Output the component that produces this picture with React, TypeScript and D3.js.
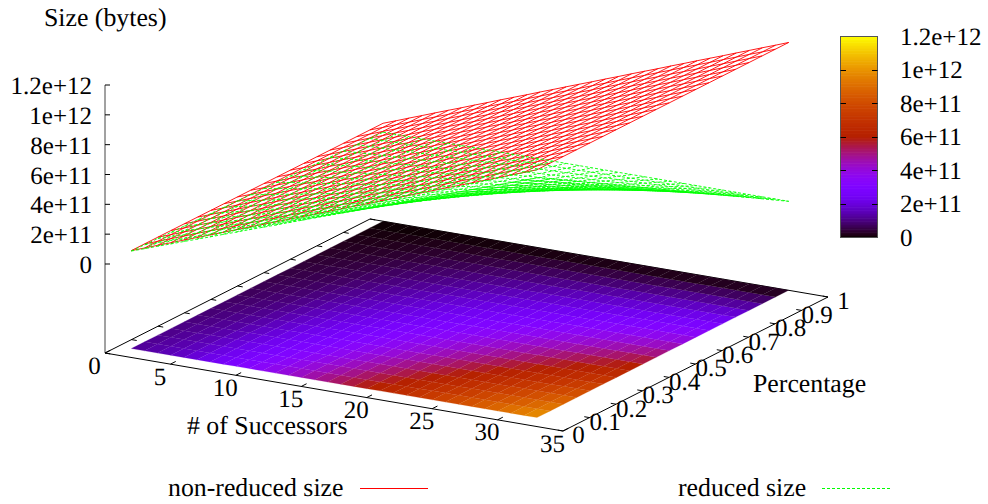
import React, { useEffect, useRef } from 'react';
import * as d3 from 'd3';

const successors = [
  1, 2, 3, 4, 5, 6, 7, 8, 9, 10, 11, 12, 13, 14, 15, 16,
  17, 18, 19, 20, 21, 22, 23, 24, 25, 26, 27, 28, 29, 30, 31, 32,
];
const percentages = [
  0.05, 0.1, 0.15, 0.2, 0.25, 0.3, 0.35, 0.4, 0.45, 0.5,
  0.55, 0.6, 0.65, 0.7, 0.75, 0.8, 0.85, 0.9, 0.95, 1,
];
// size in bytes for each successor count, read off the red mesh (it does not change with percentage)
const nonReducedSize = [
  0.6e11, 0.92e11, 1.25e11, 1.57e11, 1.9e11, 2.22e11, 2.54e11, 2.87e11,
  3.19e11, 3.52e11, 3.84e11, 4.16e11, 4.49e11, 4.81e11, 5.14e11, 5.46e11,
  5.78e11, 6.11e11, 6.43e11, 6.76e11, 7.08e11, 7.4e11, 7.73e11, 8.05e11,
  8.38e11, 8.7e11, 9.02e11, 9.35e11, 9.67e11, 10e11, 10.32e11, 10.65e11,
];
// share of the size left on the green mesh at each percentage
const reducedShare = [
  0.95, 0.9, 0.85, 0.8, 0.75, 0.7, 0.65, 0.6, 0.55, 0.5,
  0.45, 0.4, 0.35, 0.3, 0.25, 0.2, 0.15, 0.1, 0.05, 0,
];
// the colour map reads a bit brighter than the mesh at the few-successors end
const mapSize = [
  1.3e11, 1.4e11, 1.55e11, 1.7e11, 1.9e11, 2.22e11, 2.54e11, 2.87e11,
  3.19e11, 3.52e11, 3.84e11, 4.16e11, 4.49e11, 4.81e11, 5.14e11, 5.46e11,
  5.78e11, 6.11e11, 6.43e11, 6.76e11, 7.08e11, 7.4e11, 7.73e11, 8.05e11,
  8.38e11, 8.7e11, 9.02e11, 9.35e11, 9.67e11, 10e11, 10.32e11, 10.65e11,
];
const xTicks = [0, 5, 10, 15, 20, 25, 30, 35];
const yTicks = [0, 0.1, 0.2, 0.3, 0.4, 0.5, 0.6, 0.7, 0.8, 0.9, 1];
const zTicks = [0, 2e11, 4e11, 6e11, 8e11, 1e12, 1.2e12];
const zTickLabels = ['0', '2e+11', '4e+11', '6e+11', '8e+11', '1e+12', '1.2e+12'];

const FONT = '"Liberation Serif", serif';
const TICK_SIZE = 25;
const TITLE_SIZE = 25.8;

const origin = { x: 105, y: 353 };
const xScale = d3.scaleLinear().domain([0, 35]).range([0, 1]);
const yScale = d3.scaleLinear().domain([0, 1]).range([0, 1]);
const zScale = d3.scaleLinear().domain([0, 1.2e12]).range([264, 85]);
const cbScale = d3.scaleLinear().domain([0, 1.2e12]).range([237, 36]);

// flat projection of the gnuplot view, the edges of the base are parallelograms
const project = (x: number, y: number, z: number | null): [number, number] => {
  const a = xScale(x);
  const b = yScale(y);
  const px = origin.x + a * 458 + b * 265;
  const py = origin.y + a * 78 - b * 134;
  return z === null ? [px, py] : [px, py - origin.y + zScale(z)];
};

// default gnuplot palette (rgbformulae 7,5,15)
const palette = (z: number) => {
  const g = Math.max(0, Math.min(1, z / 1.2e12));
  return d3
    .rgb(255 * Math.sqrt(g), 255 * g * g * g, 255 * Math.max(0, Math.sin(2 * Math.PI * g)))
    .formatHex();
};

const reduced = (i: number, j: number) => nonReducedSize[i] * reducedShare[j];
const mapped = (i: number, j: number) => mapSize[i] * reducedShare[j];

export default function App() {
  const ref = useRef<SVGSVGElement>(null);

  useEffect(() => {
    const svg = d3.select(ref.current);
    svg.selectAll('*').remove();
    const line = d3.line();

    const text = (x: number, y: number, s: string, anchor = 'start', size = TICK_SIZE) =>
      svg
        .append('text')
        .attr('x', x)
        .attr('y', y)
        .attr('text-anchor', anchor)
        .attr('font-family', FONT)
        .attr('font-size', size)
        .attr('text-rendering', 'geometricPrecision')
        .attr('fill', '#000')
        .text(s);

    // base frame
    const frame = svg.append('g').attr('stroke', '#000').attr('fill', 'none');
    frame
      .append('path')
      .attr(
        'd',
        line([project(0, 0, null), project(35, 0, null), project(35, 1, null), project(0, 1, null)]) + 'Z'
      );
    frame
      .append('path')
      .attr('stroke', '#444')
      .attr('d', line([[origin.x, origin.y], [origin.x, zScale(1.2e12)]]));

    zTicks.forEach((t, i) => {
      const y = zScale(t);
      frame.append('path').attr('d', line([[origin.x, y], [origin.x + 5, y]]));
      text(92, y + 9, zTickLabels[i], 'end');
    });
    xTicks.forEach((t) => {
      const [px, py] = project(t, 0, null);
      const [qx, qy] = project(t, 0.02, null);
      frame.append('path').attr('d', line([[px, py], [qx, qy]]));
      text(px - 10.5, py + 20.5, String(t), 'middle');
    });
    yTicks.forEach((t) => {
      const [px, py] = project(35, t, null);
      const [qx, qy] = project(34.6, t, null);
      frame.append('path').attr('d', line([[px, py], [qx, qy]]));
      const [lx, ly] = project(0, t, null);
      const [mx, my] = project(0.4, t, null);
      frame.append('path').attr('d', line([[lx, ly], [mx, my]]));
      text(px + 15.5, py + 12.3, String(t), 'middle');
    });

    // pm3d map on the base, one quad per cell coloured by its corner average
    const map = svg.append('g');
    d3.range(successors.length - 1).forEach((i) => {
      d3.range(percentages.length - 1).forEach((j) => {
        const mean = (mapped(i, j) + mapped(i + 1, j) + mapped(i, j + 1) + mapped(i + 1, j + 1)) / 4;
        const c = palette(mean);
        map
          .append('path')
          .attr('fill', c)
          .attr('stroke', c)
          .attr('stroke-width', 0.2)
          .attr(
            'd',
            line([
              project(successors[i], percentages[j], null),
              project(successors[i + 1], percentages[j], null),
              project(successors[i + 1], percentages[j + 1], null),
              project(successors[i], percentages[j + 1], null),
            ]) + 'Z'
          );
      });
    });

    // meshes
    const mesh = (value: (i: number, j: number) => number, color: string, dash: string | null) => {
      const g = svg.append('g').attr('fill', 'none').attr('stroke', color).attr('stroke-width', 0.9);
      if (dash) g.attr('stroke-dasharray', dash);
      percentages.forEach((p, j) => {
        g.append('path').attr('d', line(successors.map((s, i) => project(s, p, value(i, j)))));
      });
      successors.forEach((s, i) => {
        g.append('path').attr('d', line(percentages.map((p, j) => project(s, p, value(i, j)))));
      });
    };
    mesh((i) => nonReducedSize[i], '#ff0000', null);
    mesh(reduced, '#00ff00', '3,2');

    // colour box
    const steps = d3.range(128);
    const cb = svg.append('g');
    steps.forEach((k) => {
      const lo = (k / 128) * 1.2e12;
      const hi = ((k + 1) / 128) * 1.2e12;
      cb.append('rect')
        .attr('x', 840.5)
        .attr('width', 37)
        .attr('y', cbScale(hi))
        .attr('height', cbScale(lo) - cbScale(hi) + 0.6)
        .attr('fill', palette((lo + hi) / 2));
    });
    cb.append('rect')
      .attr('x', 840.5)
      .attr('y', 36.5)
      .attr('width', 37)
      .attr('height', 201)
      .attr('fill', 'none')
      .attr('stroke', '#555');
    zTicks.forEach((t, i) => {
      const y = Math.round(cbScale(t)) + 0.5;
      if (i > 0 && i < zTicks.length - 1) {
        cb.append('path').attr('stroke', '#000').attr('d', line([[840.5, y], [846, y]]));
        cb.append('path').attr('stroke', '#000').attr('d', line([[872, y], [877.5, y]]));
      }
      text(900, cbScale(t) + 8.5, zTickLabels[i]);
    });

    // titles and key
    text(44, 26, 'Size (bytes)', 'start', TITLE_SIZE);
    text(187, 434, '# of Successors', 'start', TITLE_SIZE);
    text(753, 392, 'Percentage', 'start', TITLE_SIZE);
    text(168, 496, 'non-reduced size', 'start', TITLE_SIZE);
    text(678, 496, 'reduced size', 'start', TITLE_SIZE);
    svg.append('path').attr('stroke', '#ff0000').attr('d', line([[360, 488.5], [428, 488.5]]));
    svg
      .append('path')
      .attr('stroke', '#00ff00')
      .attr('stroke-dasharray', '3,2')
      .attr('d', line([[822, 488.5], [890, 488.5]]));
  }, []);

  return (
    <svg
      ref={ref}
      width={988}
      height={504}
      style={{ position: 'absolute', left: 0, top: 0, display: 'block', background: '#fff' }}
    />
  );
}
